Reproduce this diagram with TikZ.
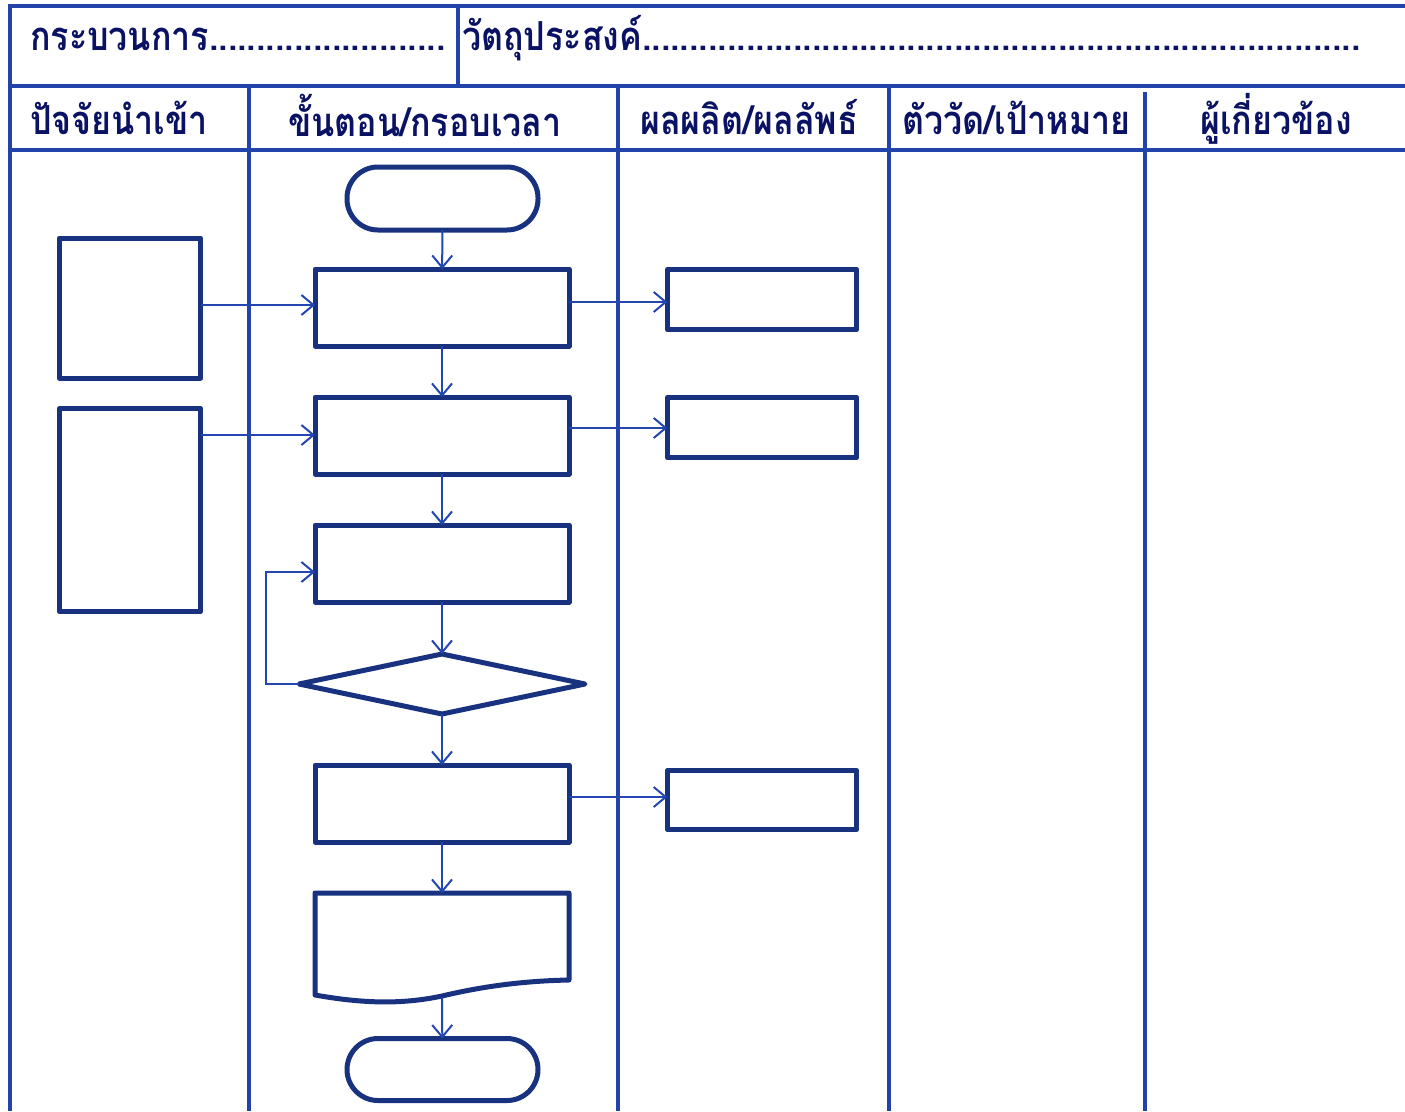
\documentclass[tikz,border=0pt]{standalone}
\usepackage{fontspec}
\newfontfamily\thaifont[Script=Thai,FakeStretch=0.85]{Loma}
\usetikzlibrary{arrows.meta,shapes.geometric}
\definecolor{gridc}{RGB}{34,68,170}
\definecolor{shapec}{RGB}{24,50,128}
\definecolor{arrc}{RGB}{36,70,178}
\definecolor{txtc}{RGB}{10,18,100}
\tikzset{
  gridline/.style={draw=gridc,line width=3.5pt},
  boxshape/.style={draw=shapec,line width=5pt,rectangle,inner sep=0pt,outer sep=0pt,line join=round},
  termshape/.style={boxshape,rounded corners=31pt},
  decshape/.style={draw=shapec,line width=5pt,diamond,inner sep=0pt,outer sep=0pt,line join=round},
  arr/.style={draw=arrc,line width=2pt,-{Straight Barb[length=12pt,width=20pt,line width=2pt]}},
  hdr/.style={anchor=base west,inner sep=0pt,text=txtc,font=\thaifont\bfseries\fontsize{40}{44}\selectfont},
}
\begin{document}
\begin{tikzpicture}[x=1pt,y=-1pt]
\useasboundingbox (0,0) rectangle (1405,1111);
% grid
\draw[gridline] (1405,6) -- (10,6) -- (10,1111);
\draw[gridline] (10,86) -- (1405,86);
\draw[gridline] (10,150) -- (1405,150);
\draw[gridline] (458,6) -- (458,86);
\draw[gridline] (249,86) -- (249,1111);
\draw[gridline] (618,86) -- (618,1111);
\draw[gridline] (889,86) -- (889,1111);
\draw[gridline] (1145,92) -- (1145,1111);
% header texts
\node[hdr] (h1) at (30,50) {กระบวนการ.........................};
\node[hdr] (h2) at (462,50) {วัตถุประสงค์............................................................................};
\node[hdr] (c1) at (30,134) {ปัจจัยนำเข้า};
\node[hdr] (c2) at (288,136) {ขั้นตอน/กรอบเวลา};
\node[hdr] (c3) at (640,134) {ผลผลิต/ผลลัพธ์};
\node[hdr] (c4) at (902,134) {ตัววัด/เป้าหมาย};
\node[hdr] (c5) at (1200,134) {ผู้เกี่ยวข้อง};
% flow shapes
\node[termshape,minimum width=191pt,minimum height=63pt] (start) at (442.5,198.5) {};
\node[boxshape,minimum width=254pt,minimum height=77pt] (s1) at (442,307.5) {};
\node[boxshape,minimum width=254pt,minimum height=77pt] (s2) at (442,435.5) {};
\node[boxshape,minimum width=254pt,minimum height=77pt] (s3) at (442,563.5) {};
\node[decshape,minimum width=286pt,minimum height=60pt] (dec) at (442,684) {};
\node[boxshape,minimum width=254pt,minimum height=77pt] (s4) at (442,803.5) {};
\node[inner sep=0pt,outer sep=0pt,minimum width=254pt,minimum height=104pt] (doc) at (442,945) {};
\draw[draw=shapec,line width=5pt,line join=round]
  (doc.north west) -- (doc.north east) -- (569,980)
  .. controls (520,981) and (480,987) .. (442,996)
  .. controls (400,1005) and (360,1003) .. (315,995) -- cycle;
\coordinate (docb) at (442,997);
\node[termshape,minimum width=191pt,minimum height=62pt] (stop) at (442.5,1069.5) {};
% inputs
\node[boxshape,minimum width=141.5pt,minimum height=140pt] (in1) at (130,308) {};
\node[boxshape,minimum width=141.5pt,minimum height=203.5pt] (in2) at (130,510) {};
% outputs
\node[boxshape,minimum width=189.5pt,minimum height=60.5pt] (o1) at (762,299.5) {};
\node[boxshape,minimum width=189.5pt,minimum height=60.5pt] (o2) at (762,427.5) {};
\node[boxshape,minimum width=189.5pt,minimum height=59.5pt] (o3) at (762,800) {};
% connectors
\draw[arr] (start) -- (s1);
\draw[arr] (s1) -- (s2);
\draw[arr] (s2) -- (s3);
\draw[arr] (s3) -- (dec);
\draw[arr] (dec) -- (s4);
\draw[arr] (s4) -- (doc);
\draw[arr] (docb) -- (stop);
\coordinate (ya) at (0,305);
\coordinate (yb) at (0,435);
\coordinate (yc) at (0,302);
\coordinate (yd) at (0,428);
\coordinate (ye) at (0,797);
\draw[arr] (in1.east |- ya) -- (s1.west |- ya);
\draw[arr] (in2.east |- yb) -- (s2.west |- yb);
\draw[arr] (s1.east |- yc) -- (o1.west |- yc);
\draw[arr] (s2.east |- yd) -- (o2.west |- yd);
\draw[arr] (s4.east |- ye) -- (o3.west |- ye);
\coordinate (lp) at (266,572);
\draw[arr] (dec.west) -| (lp) -- (s3.west |- lp);
\end{tikzpicture}
\end{document}
